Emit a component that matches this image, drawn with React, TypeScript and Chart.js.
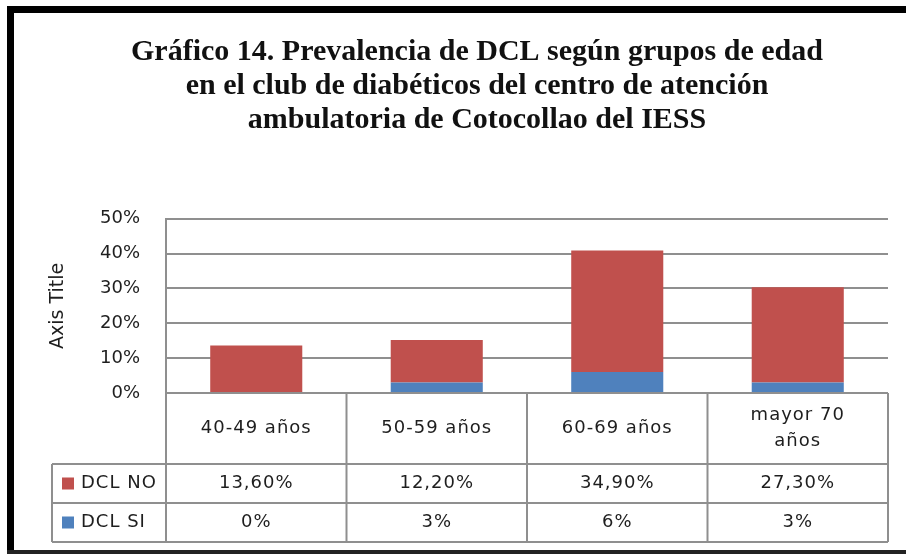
import React, { useEffect, useRef } from 'react';
import { Chart, registerables } from 'chart.js';

Chart.register(...registerables);

const titleLines = [
  'Gráfico 14. Prevalencia de DCL según grupos de edad',
  'en el club de diabéticos del centro de atención',
  'ambulatoria de Cotocollao del IESS',
];
const categories = [['40-49 años'], ['50-59 años'], ['60-69 años'], ['mayor 70', 'años']];
const seriesNames = ['DCL NO', 'DCL SI'];
const dclNo = [13.6, 12.2, 34.9, 27.3];
const dclSi = [0, 3, 6, 3];
const dclNoLabels = ['13,60%', '12,20%', '34,90%', '27,30%'];
const dclSiLabels = ['0%', '3%', '6%', '3%'];
const yMin = 0;
const yMax = 50;
const yStep = 10;

const RED = '#C0504D';
const BLUE = '#4F81BD';
const GRID = '#8f8f8f';
const TEXT = '#1e1e1e';

const tablePlugin = {
  id: 'dataTableAndFrame',
  afterDraw(chart: any) {
    const { ctx, chartArea: ca, scales } = chart;
    const x = scales.x;
    const n = categories.length;
    const colW = (ca.right - ca.left) / n;
    const legendLeft = ca.left - 114;
    const r0 = ca.bottom;
    const r1 = r0 + 71;
    const r2 = r1 + 39;
    const r3 = r2 + 39;

    ctx.save();
    ctx.strokeStyle = GRID;
    ctx.lineWidth = 2;
    const line = (x1: number, y1: number, x2: number, y2: number) => {
      ctx.beginPath();
      ctx.moveTo(x1, y1);
      ctx.lineTo(x2, y2);
      ctx.stroke();
    };
    line(ca.left, r0, ca.right, r0);
    line(legendLeft, r1, ca.right, r1);
    line(legendLeft, r2, ca.right, r2);
    line(legendLeft, r3, ca.right, r3);
    line(legendLeft, r1, legendLeft, r3);
    for (let i = 0; i <= n; i++) {
      const xx = ca.left + i * colW;
      line(xx, r0, xx, r3);
    }

    ctx.fillStyle = TEXT;
    ctx.font = '18px "DejaVu Sans"';
    (ctx as any).letterSpacing = '1px';
    ctx.textAlign = 'center';
    ctx.textBaseline = 'middle';
    for (let i = 0; i < n; i++) {
      const cx = x.getPixelForValue(i);
      const lines = categories[i];
      const lh = 26;
      const cy = (r0 + r1) / 2;
      lines.forEach((t, j) => {
        ctx.fillText(t, cx, cy + (j - (lines.length - 1) / 2) * lh);
      });
      ctx.fillText(dclNoLabels[i], cx, (r1 + r2) / 2);
      ctx.fillText(dclSiLabels[i], cx, (r2 + r3) / 2);
    }
    ctx.textAlign = 'left';
    const rows = [
      { name: seriesNames[0], color: RED, y: (r1 + r2) / 2 },
      { name: seriesNames[1], color: BLUE, y: (r2 + r3) / 2 },
    ];
    rows.forEach((r) => {
      ctx.fillStyle = r.color;
      ctx.fillRect(legendLeft + 10, r.y - 6, 12, 12);
      ctx.fillStyle = TEXT;
      ctx.fillText(r.name, legendLeft + 29, r.y);
    });
    (ctx as any).letterSpacing = '0px';

    // outer frame
    ctx.fillStyle = '#000';
    ctx.fillRect(7, 6, chart.width - 7, 7);
    ctx.fillRect(7, 6, 7, chart.height - 6);
    ctx.fillStyle = '#222';
    ctx.fillRect(7, chart.height - 4, chart.width - 7, 4);
    ctx.restore();
  },
};

export default function App() {
  const ref = useRef<HTMLCanvasElement | null>(null);

  useEffect(() => {
    document.body.style.margin = '0';
    const canvas = ref.current;
    if (!canvas) return;
    const chart = new Chart(canvas, {
      type: 'bar',
      data: {
        labels: categories as any,
        datasets: [
          {
            label: seriesNames[1],
            data: dclSi,
            backgroundColor: BLUE,
            borderWidth: 0,
            categoryPercentage: 1,
            barPercentage: 0.51,
          },
          {
            label: seriesNames[0],
            data: dclNo,
            backgroundColor: RED,
            borderWidth: 0,
            categoryPercentage: 1,
            barPercentage: 0.51,
          },
        ],
      },
      options: {
        animation: false,
        responsive: false,
        layout: { padding: { top: 0, left: 66, right: 18, bottom: 161 } },
        plugins: {
          legend: { display: false },
          tooltip: { enabled: false },
          title: {
            display: true,
            text: titleLines,
            color: '#111',
            font: { family: '"Liberation Serif", serif', size: 30, weight: 'bold', lineHeight: 1.13 },
            padding: { top: 35, bottom: 82 },
          },
        },
        scales: {
          x: { display: false, stacked: true },
          y: {
            stacked: true,
            min: yMin,
            max: yMax,
            ticks: {
              stepSize: yStep,
              callback: (v: any) => `${v}%`,
              font: { family: '"DejaVu Sans"', size: 18 },
              color: TEXT,
              padding: 26,
            },
            grid: { color: GRID, lineWidth: 2, drawTicks: false },
            border: { display: true, color: GRID, width: 2 },
            title: {
              display: true,
              text: 'Axis Title',
              color: TEXT,
              font: { family: '"DejaVu Sans"', size: 19 },
              padding: { top: -19, bottom: 0 },
            },
            afterFit: (s: any) => {
              s.width = 100;
            },
          },
        },
      },
      plugins: [tablePlugin],
    });
    return () => chart.destroy();
  }, []);

  return (
    <div style={{ position: 'absolute', left: 0, top: 0, width: 906, height: 554 }}>
      <canvas ref={ref} width={906} height={554} />
    </div>
  );
}
